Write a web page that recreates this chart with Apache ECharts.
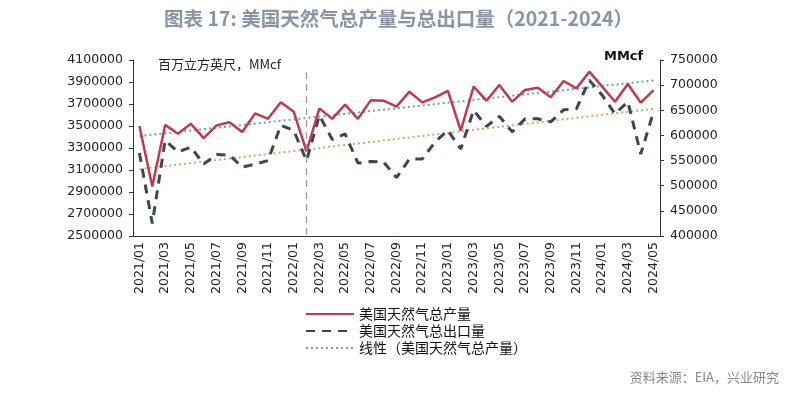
<!DOCTYPE html>
<html>
<head>
<meta charset="utf-8">
<script src="https://cdn.jsdelivr.net/npm/echarts@6/dist/echarts.min.js"></script>
<style>html,body{margin:0;padding:0;background:#fff;}#c{width:797px;height:396px;}</style>
</head>
<body>
<div id="c"></div>
<script>
var categories = [
  '2021/01','2021/02','2021/03','2021/04','2021/05','2021/06','2021/07','2021/08','2021/09','2021/10','2021/11','2021/12',
  '2022/01','2022/02','2022/03','2022/04','2022/05','2022/06','2022/07','2022/08','2022/09','2022/10','2022/11','2022/12',
  '2023/01','2023/02','2023/03','2023/04','2023/05','2023/06','2023/07','2023/08','2023/09','2023/10','2023/11','2023/12',
  '2024/01','2024/02','2024/03','2024/04','2024/05'
];
var production = [
  3500000, 2950000, 3510000, 3430000, 3520000, 3390000, 3505000, 3535000, 3445000, 3615000, 3565000, 3715000,
  3630000, 3270000, 3660000, 3565000, 3695000, 3565000, 3735000, 3730000, 3676000, 3812000, 3715000, 3760000,
  3820000, 3458000, 3858000, 3730000, 3873000, 3721000, 3827000, 3848000, 3761000, 3909000, 3842000, 3994000,
  3858000, 3721000, 3882000, 3712000, 3827000
];
var exports_ = [
  565000, 425000, 590000, 567000, 577000, 543000, 562000, 561000, 537000, 543000, 550000, 620000,
  610000, 550000, 640000, 592000, 603000, 545000, 548000, 547000, 516000, 553000, 553000, 587000,
  610000, 573000, 650000, 618000, 638000, 607000, 633000, 633000, 627000, 651000, 653000, 710000,
  680000, 643000, 667000, 563000, 647000
];
// trend lines read at start and end points
var prodTrendEnds = [3408000, 3914000];
var expTrendEnds = [533000, 653000];
var leftTicks = {min: 2500000, max: 4100000, interval: 200000};
var rightTicks = {min: 400000, max: 750000, interval: 50000};

function endsSeries(ends) {
  var a = categories.map(function(){ return null; });
  a[0] = ends[0];
  a[a.length - 1] = ends[1];
  return a;
}
function plain(v) { return String(v); }

var chart = echarts.init(document.getElementById('c'));
var axisFont = {fontFamily: 'DejaVu Sans', fontSize: 12.5, color: '#222'};
chart.setOption({
  animation: false,
  backgroundColor: '#fff',
  title: {
    text: '图表 17: 美国天然气总产量与总出口量（2021-2024）',
    left: 'center', top: 4,
    textStyle: {fontFamily: 'Noto Sans CJK SC', fontSize: 19.5, fontWeight: 'bold', color: '#8795a5'}
  },
  grid: {left: 133, right: 137, top: 60, bottom: 160},
  legend: {
    orient: 'vertical', left: 300, top: 302, itemWidth: 48, itemHeight: 12, itemGap: 3,
    itemStyle: {opacity: 0},
    textStyle: {fontFamily: 'Noto Sans CJK SC', fontSize: 14, color: '#111'},
    data: ['美国天然气总产量', '美国天然气总出口量', '线性（美国天然气总产量）']
  },
  xAxis: {
    type: 'category', data: categories, boundaryGap: true,
    axisLine: {lineStyle: {color: '#333', width: 1}},
    axisTick: {interval: 1, length: 4, lineStyle: {color: '#333'}},
    axisLabel: Object.assign({interval: 1, rotate: 90, margin: 6}, axisFont)
  },
  yAxis: [
    {type: 'value', min: leftTicks.min, max: leftTicks.max, interval: leftTicks.interval, position: 'left',
     axisLine: {show: true, lineStyle: {color: '#333'}}, axisTick: {show: true, length: 4, lineStyle: {color: '#333'}},
     splitLine: {show: false}, axisLabel: Object.assign({margin: 10, formatter: plain}, axisFont)},
    {type: 'value', min: rightTicks.min, max: rightTicks.max, interval: rightTicks.interval, position: 'right',
     axisLine: {show: true, lineStyle: {color: '#333'}}, axisTick: {show: true, length: 4, lineStyle: {color: '#333'}},
     splitLine: {show: false}, axisLabel: Object.assign({margin: 10, formatter: plain}, axisFont)}
  ],
  series: [
    {name: '线性（美国天然气总产量）', type: 'line', yAxisIndex: 0, data: endsSeries(prodTrendEnds), connectNulls: true,
     symbol: 'none', lineStyle: {color: '#6f9ec0', width: 2, type: [2, 3]}, itemStyle: {color: '#6f9ec0'}, z: 1},
    {name: '趋势出口', type: 'line', yAxisIndex: 1, data: endsSeries(expTrendEnds), connectNulls: true,
     symbol: 'none', lineStyle: {color: '#e3a25f', width: 2, type: [2, 3]}, itemStyle: {color: '#e3a25f'}, z: 1},
    {name: '美国天然气总出口量', type: 'line', yAxisIndex: 1, data: exports_, symbol: 'none',
     lineStyle: {color: '#3b4656', width: 3, type: [9, 7]}, itemStyle: {color: '#3b4656'}, z: 2},
    {name: '美国天然气总产量', type: 'line', yAxisIndex: 0, data: production, symbol: 'none',
     lineStyle: {color: '#c0394d', width: 2.5}, itemStyle: {color: '#c0394d'}, z: 3,
     markLine: {silent: true, symbol: 'none', label: {show: false},
       lineStyle: {color: '#999', type: [7, 5], width: 1.2},
       data: [[{coord: ['2022/02', 3990000]}, {coord: ['2022/02', 2500000]}]]}}
  ],
  graphic: [
    {type: 'text', left: 158, top: 58, style: {text: '百万立方英尺，MMcf', font: '13px "Noto Sans CJK SC"', fill: '#222'}},
    {type: 'text', left: 604, top: 50, style: {text: 'MMcf', font: 'bold 13px "DejaVu Sans"', fill: '#111'}},
    {type: 'text', right: 18, top: 371, style: {text: '资料来源：EIA，兴业研究', font: '13px "Noto Sans CJK SC"', fill: '#8a8a8a'}}
  ]
});
</script>
</body>
</html>
